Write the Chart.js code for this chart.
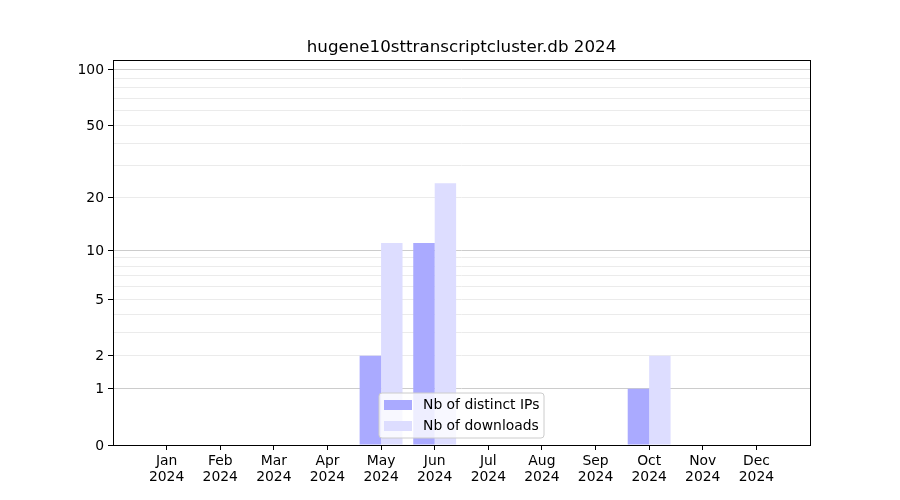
<!DOCTYPE html>
<html><head><meta charset="utf-8">
<script src="https://cdn.jsdelivr.net/npm/chart.js@4/dist/chart.umd.min.js"></script>
<style>html,body{margin:0;padding:0;background:#fff}</style>
</head><body>
<canvas id="c" width="900" height="500"></canvas>
<script>
const months = ['Jan','Feb','Mar','Apr','May','Jun','Jul','Aug','Sep','Oct','Nov','Dec'];
const year = '2024';
const distinctIPs = [0,0,0,0,2,11,0,0,0,1,0,0];
const downloads   = [0,0,0,0,11,24,0,0,0,2,0,0];
const yTickValues = [0,1,2,3,4,5,6,7,8,9,10,20,30,40,50,60,70,80,90,100];
const yLabeled = [0,1,2,5,10,20,50,100];
const yDecades = [1,10,100];
const yTopValue = 113;
const titleText = 'hugene10sttranscriptcluster.db 2024';
const seriesNames = ['Nb of distinct IPs','Nb of downloads'];
const seriesColors = ['#aaaaff','#ddddff'];

const tf = v => Math.log10(1 + v);
const FONT = 'DejaVu Sans';
const FS = 13.9;

const labels = ['', ...months.map(m => [m, year]), ''];
const pad = arr => [null, ...arr.map(tf), null];

const decor = {
  id: 'decor',
  afterDraw(chart) {
    const ctx = chart.ctx, a = chart.chartArea;
    ctx.save();
    ctx.strokeStyle = '#000'; ctx.lineWidth = 1;
    ctx.strokeRect(Math.round(a.left) + 0.5, Math.round(a.top) + 0.5,
                   Math.round(a.right - a.left), Math.round(a.bottom - a.top));
    ctx.fillStyle = '#000';
    ctx.font = '16.7px "' + FONT + '"';
    ctx.textAlign = 'center'; ctx.textBaseline = 'alphabetic';
    ctx.fillText(titleText, (a.left + a.right) / 2, a.top - 8);
    const bx = a.left + 266, by = a.top + 333, bw = 165, bh = 45, r = 3;
    ctx.beginPath();
    ctx.moveTo(bx + r, by);
    ctx.arcTo(bx + bw, by, bx + bw, by + bh, r);
    ctx.arcTo(bx + bw, by + bh, bx, by + bh, r);
    ctx.arcTo(bx, by + bh, bx, by, r);
    ctx.arcTo(bx, by, bx + bw, by, r);
    ctx.closePath();
    ctx.fillStyle = 'rgba(255,255,255,0.8)';
    ctx.fill();
    ctx.strokeStyle = '#cccccc';
    ctx.stroke();
    ctx.font = FS + 'px "' + FONT + '"';
    ctx.textAlign = 'left'; ctx.textBaseline = 'middle';
    seriesNames.forEach((n, i) => {
      const y = by + 7 + i * 21;
      ctx.fillStyle = seriesColors[i];
      ctx.fillRect(bx + 5, y, 28, 10);
      ctx.fillStyle = '#000';
      ctx.fillText(n, bx + 44, y + 5);
    });
    ctx.restore();
  }
};

new Chart(document.getElementById('c'), {
  type: 'bar',
  data: {
    labels,
    datasets: [
      { label: seriesNames[0], data: pad(distinctIPs), backgroundColor: seriesColors[0], borderWidth: 0 },
      { label: seriesNames[1], data: pad(downloads), backgroundColor: seriesColors[1], borderWidth: 0 }
    ]
  },
  options: {
    responsive: false,
    animation: false,
    devicePixelRatio: 1,
    layout: { padding: { left: 63, top: 60, right: 90, bottom: 10 } },
    datasets: { bar: { categoryPercentage: 0.8, barPercentage: 1.0 } },
    plugins: { legend: { display: false }, title: { display: false }, tooltip: { enabled: false } },
    scales: {
      x: {
        offset: false,
        border: { display: false },
        grid: {
          offset: false,
          drawOnChartArea: false,
          tickLength: 5,
          tickColor: c => (c.index === 0 || c.index === labels.length - 1) ? 'rgba(0,0,0,0)' : '#000'
        },
        ticks: {
          autoSkip: false, maxRotation: 0, minRotation: 0, padding: 3,
          color: '#000', font: { family: FONT, size: FS, lineHeight: 1.15 }
        },
        afterFit: s => { s.height = 45; }
      },
      y: {
        min: 0,
        max: tf(yTopValue),
        border: { display: false },
        afterBuildTicks: s => { s.ticks = yTickValues.map(v => ({ value: tf(v) })); },
        afterFit: s => { s.width = 50; },
        grid: {
          tickLength: 5,
          color: c => {
            const v = yTickValues[c.index];
            if (v === 0) return 'rgba(0,0,0,0)';
            return yDecades.includes(v) ? '#cccccc' : '#ebebeb';
          },
          tickColor: c => yLabeled.includes(yTickValues[c.index]) ? '#000' : 'rgba(0,0,0,0)'
        },
        ticks: {
          autoSkip: false, padding: 4, color: '#000', labelOffset: 1,
          font: { family: FONT, size: FS },
          callback: (val, i) => yLabeled.includes(yTickValues[i]) ? String(yTickValues[i]) : ''
        }
      }
    }
  },
  plugins: [decor]
});
</script>
</body></html>
